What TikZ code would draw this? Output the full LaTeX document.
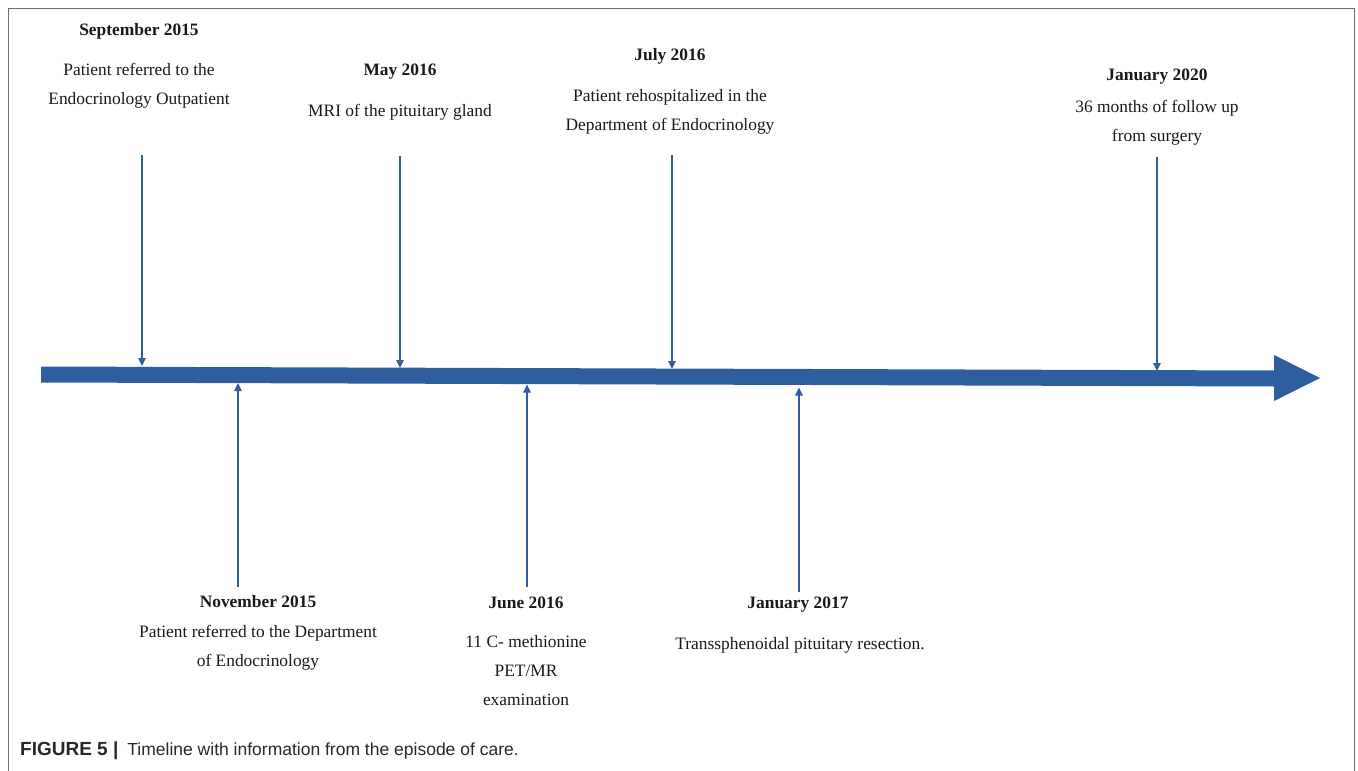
\documentclass[tikz,border=0pt]{standalone}
\usepackage{fontspec}
\setmainfont{Liberation Serif}
\newfontfamily\capfont{Liberation Sans}
\usetikzlibrary{arrows.meta}
\definecolor{tlblue}{RGB}{47,94,158}
\definecolor{framegray}{RGB}{110,110,110}
\definecolor{txt}{RGB}{25,25,25}
\definecolor{captxt}{RGB}{40,40,40}
\tikzset{
  datelbl/.style={font=\fontsize{17.4}{20}\selectfont\bfseries, text=txt, inner sep=0pt, anchor=center},
  desclbl/.style={font=\fontsize{17.4}{29}\selectfont, text=txt, inner sep=0pt, align=center, anchor=north},
  tick/.style={draw=tlblue, line width=1.2pt, -{Triangle[width=7.5pt,length=8pt]}},
}
\begin{document}
\begin{tikzpicture}[x=1pt,y=-1pt]
\useasboundingbox (0,0) rectangle (1358,771);
% frame
\draw[framegray, line width=1.6pt] (8.5,771) -- (8.5,8.5) -- (1354.5,8.5) -- (1354.5,771);
% timeline arrow
\fill[tlblue] (41,366.5) -- (1274,370.5) -- (1274,355) -- (1320,378) -- (1274,401) -- (1274,386.5) -- (41,382.5) -- cycle;

% top events
\node[datelbl] (d1) at (139,31) {September 2015};
\node[desclbl] (t1) at (139,63.5) {Patient referred to the\\Endocrinology Outpatient};
\node[datelbl] (d2) at (400,72) {May 2016};
\node[desclbl] (t2) at (400,104) {MRI of the pituitary gland};
\node[datelbl] (d3) at (670,56) {July 2016};
\node[desclbl] (t3) at (670,89) {Patient rehospitalized in the\\Department of Endocrinology};
\node[datelbl] (d4) at (1157,77) {January 2020};
\node[desclbl] (t4) at (1157,100) {36 months of follow up\\from surgery};

% bottom events
\node[datelbl] (d5) at (258,602) {November 2015};
\node[desclbl] (t5) at (258,625) {Patient referred to the Department\\of Endocrinology};
\node[datelbl] (d6) at (526,603) {June 2016};
\node[desclbl] (t6) at (526,635) {11 C- methionine\\PET/MR\\examination};
\node[datelbl] (d7) at (798,605) {January 2017};
\node[desclbl] (t7) at (800,637) {Transsphenoidal pituitary resection.};

% arrow end points
\coordinate (a1s) at (142,155); \coordinate (a1e) at (142,366);
\coordinate (a2s) at (400,156); \coordinate (a2e) at (400,368);
\coordinate (a3s) at (672,155); \coordinate (a3e) at (672,369);
\coordinate (a4s) at (1157,157); \coordinate (a4e) at (1157,371);
\coordinate (a5s) at (238,587); \coordinate (a5e) at (238,383);
\coordinate (a6s) at (527,587); \coordinate (a6e) at (527,384.5);
\coordinate (a7s) at (799,592); \coordinate (a7e) at (799,387.5);
\foreach \i in {1,...,7} { \draw[tick] (a\i s) -- (a\i e); }

% caption
\node[font=\capfont\fontsize{17.5}{20}\selectfont, text=captxt, anchor=west, inner sep=0pt] (cap) at (20,751) {{\fontsize{19}{20}\selectfont\bfseries FIGURE 5 |}\hspace{9pt}Timeline with information from the episode of care.};
\end{tikzpicture}
\end{document}
